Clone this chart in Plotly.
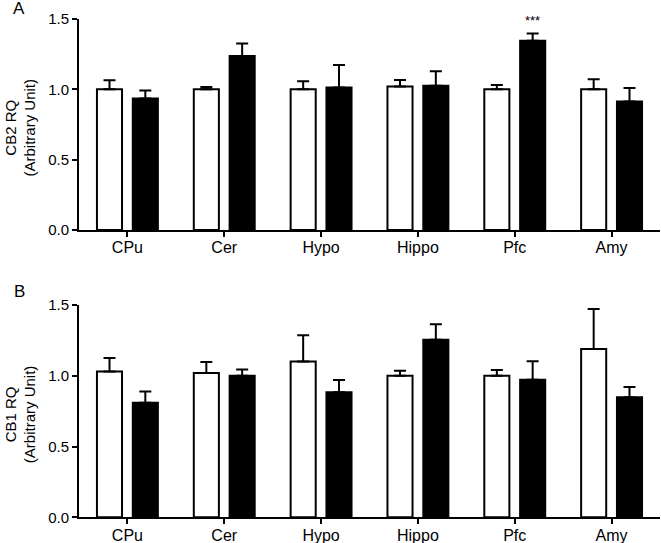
import plotly.graph_objects as go

categories = ["CPu", "Cer", "Hypo", "Hippo", "Pfc", "Amy"]

cb2_ctrl = [1.00, 1.00, 1.00, 1.02, 1.00, 1.00]
cb2_ctrl_err = [0.065, 0.017, 0.058, 0.047, 0.030, 0.072]
cb2_trt = [0.935, 1.237, 1.013, 1.025, 1.345, 0.913]
cb2_trt_err = [0.057, 0.089, 0.160, 0.104, 0.052, 0.096]

cb1_ctrl = [1.03, 1.02, 1.10, 1.00, 1.00, 1.19]
cb1_ctrl_err = [0.095, 0.077, 0.186, 0.035, 0.040, 0.282]
cb1_trt = [0.81, 1.00, 0.883, 1.255, 0.972, 0.848]
cb1_trt_err = [0.078, 0.045, 0.087, 0.109, 0.130, 0.073]

y_ticks = [0.0, 0.5, 1.0, 1.5]
y_titles = ["CB2 RQ<br>(Arbitrary Unit)", "CB1 RQ<br>(Arbitrary Unit)"]
panel_labels = ["A", "B"]

FONT = "Arial, Liberation Sans, sans-serif"
W, H = 661, 543


def px(x):
    return x / W


def py(y):
    return 1 - y / H


fig = go.Figure()


def add_pair(ctrl, ctrl_err, trt, trt_err, xa, ya):
    for vals, errs, fill in [(ctrl, ctrl_err, "white"), (trt, trt_err, "black")]:
        fig.add_trace(go.Bar(
            x=categories, y=vals, xaxis=xa, yaxis=ya,
            marker=dict(color=fill, line=dict(color="black", width=2)),
            error_y=dict(type="data", array=errs, arrayminus=[0] * len(errs),
                         symmetric=False, color="black", thickness=2, width=6),
            showlegend=False, hoverinfo="skip",
        ))


add_pair(cb2_ctrl, cb2_ctrl_err, cb2_trt, cb2_trt_err, "x", "y")
add_pair(cb1_ctrl, cb1_ctrl_err, cb1_trt, cb1_trt_err, "x2", "y2")

x_dom = [px(79), px(660)]
top_dom = [py(230), py(19)]
bot_dom = [py(517.3), py(305)]

xaxis_common = dict(
    domain=x_dom, showline=True, linecolor="black", linewidth=2,
    ticks="outside", ticklen=5, tickwidth=2, tickcolor="black",
    tickfont=dict(family=FONT, size=16, color="black"),
    ticklabelstandoff=-3,
    showgrid=False, zeroline=False, range=[-0.5, 5.5], automargin=False,
)
yaxis_common = dict(
    range=[0, 1.5], tickvals=y_ticks, tickformat=".1f",
    showline=True, linecolor="black", linewidth=2,
    ticks="outside", ticklen=5, tickwidth=2, tickcolor="black",
    tickfont=dict(family=FONT, size=15, color="black"),
    showgrid=False, zeroline=False, automargin=False,
)

fig.update_layout(
    width=W, height=H,
    margin=dict(l=0, r=0, t=0, b=0),
    paper_bgcolor="white", plot_bgcolor="white",
    barmode="group", bargap=0.26, bargroupgap=0.3,
    xaxis=dict(anchor="y", **xaxis_common),
    yaxis=dict(domain=top_dom, anchor="x", **yaxis_common),
    xaxis2=dict(anchor="y2", **xaxis_common),
    yaxis2=dict(domain=bot_dom, anchor="x2", **yaxis_common),
)

annotations = []
for title, lab, dom, lab_y in zip(y_titles, panel_labels, [top_dom, bot_dom], [9, 291]):
    annotations.append(dict(
        text=title, textangle=-90, xref="paper", yref="paper",
        x=px(20), y=(dom[0] + dom[1]) / 2 - 3 / H, xanchor="center", yanchor="middle",
        showarrow=False, font=dict(family=FONT, size=15, color="black"),
    ))
    annotations.append(dict(
        text=lab, xref="paper", yref="paper",
        x=px(19), y=py(lab_y), xanchor="center", yanchor="middle",
        showarrow=False, font=dict(family=FONT, size=17, color="black"),
    ))

# significance marker above Pfc treated bar (CB2)
i = categories.index("Pfc")
annotations.append(dict(
    text="***", x=categories[i], y=cb2_trt[i] + cb2_trt_err[i],
    xref="x", yref="y", xshift=18, yshift=3, yanchor="bottom",
    showarrow=False, font=dict(family=FONT, size=13, color="black"),
))
fig.update_layout(annotations=annotations)

fig.write_html(
    "out.html",
    config={"displayModeBar": False, "staticPlot": True},
    post_script="document.body.style.margin='0';document.body.style.padding='0';",
)
